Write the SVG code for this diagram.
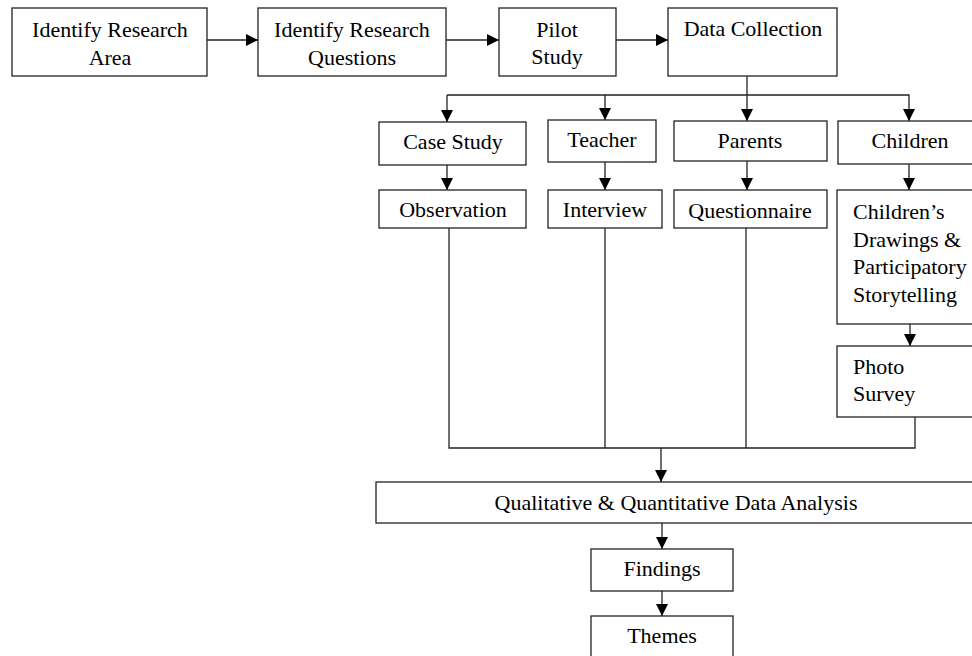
<svg xmlns="http://www.w3.org/2000/svg" width="972" height="656" viewBox="0 0 972 656">
<style>
.box{fill:#fff;stroke:#222;stroke-width:1.3}
.t{font-family:"Liberation Serif","Times New Roman",serif;font-size:22px;fill:#000;text-anchor:middle}
.l{text-anchor:start}
.c{fill:none;stroke:#222;stroke-width:1.3}
</style>
<defs>
<marker id="ah" markerWidth="13" markerHeight="13" refX="12" refY="6.5" orient="auto" markerUnits="userSpaceOnUse">
<path d="M0,0.5 L12,6.5 L0,12.5 Z" fill="#000"/>
</marker>
</defs>
<rect width="972" height="656" fill="#fff"/>
<g id="connectors">
<line class="c" x1="207" y1="40" x2="258" y2="40" marker-end="url(#ah)"/>
<line class="c" x1="446" y1="40" x2="499" y2="40" marker-end="url(#ah)"/>
<line class="c" x1="616" y1="40" x2="668" y2="40" marker-end="url(#ah)"/>
<line class="c" x1="747" y1="76" x2="747" y2="121" marker-end="url(#ah)"/>
<polyline class="c" points="447,95 909,95 909,121" marker-end="url(#ah)"/>
<line class="c" x1="447" y1="95" x2="447" y2="122" marker-end="url(#ah)"/>
<line class="c" x1="605" y1="95" x2="605" y2="120" marker-end="url(#ah)"/>
<line class="c" x1="447" y1="165" x2="447" y2="190" marker-end="url(#ah)"/>
<line class="c" x1="605" y1="162" x2="605" y2="190" marker-end="url(#ah)"/>
<line class="c" x1="747" y1="161" x2="747" y2="190" marker-end="url(#ah)"/>
<line class="c" x1="909" y1="164" x2="909" y2="190" marker-end="url(#ah)"/>
<line class="c" x1="910" y1="324" x2="910" y2="346" marker-end="url(#ah)"/>
<polyline class="c" points="449,228 449,448 915,448 915,417"/>
<line class="c" x1="605" y1="228" x2="605" y2="448"/>
<line class="c" x1="746" y1="228" x2="746" y2="448"/>
<line class="c" x1="661" y1="448" x2="661" y2="482" marker-end="url(#ah)"/>
<line class="c" x1="662" y1="523" x2="662" y2="549" marker-end="url(#ah)"/>
<line class="c" x1="662" y1="591" x2="662" y2="616" marker-end="url(#ah)"/>
</g>
<g id="n1"><rect class="box" x="12" y="8" width="195" height="68"/><text class="t" x="110" y="37">Identify Research</text><text class="t" x="110" y="65">Area</text></g>
<g id="n2"><rect class="box" x="258" y="8" width="188" height="68"/><text class="t" x="352" y="37">Identify Research</text><text class="t" x="352" y="65">Questions</text></g>
<g id="n3"><rect class="box" x="499" y="8" width="117" height="68"/><text class="t" x="557" y="37">Pilot</text><text class="t" x="557" y="64">Study</text></g>
<g id="n4"><rect class="box" x="668" y="8" width="169" height="68"/><text class="t" x="753" y="36">Data Collection</text></g>
<g id="n5"><rect class="box" x="379" y="122" width="147" height="43"/><text class="t" x="453" y="149">Case Study</text></g>
<g id="n6"><rect class="box" x="548" y="120" width="108" height="42"/><text class="t" x="602" y="147">Teacher</text></g>
<g id="n7"><rect class="box" x="674" y="121" width="153" height="40"/><text class="t" x="750" y="148">Parents</text></g>
<g id="n8"><rect class="box" x="838" y="121" width="144" height="43"/><text class="t" x="910" y="148">Children</text></g>
<g id="n9"><rect class="box" x="379" y="190" width="147" height="38"/><text class="t" x="453" y="217">Observation</text></g>
<g id="n10"><rect class="box" x="548" y="190" width="114" height="38"/><text class="t" x="605" y="217">Interview</text></g>
<g id="n11"><rect class="box" x="674" y="190" width="153" height="38"/><text class="t" x="750" y="218">Questionnaire</text></g>
<g id="n12"><rect class="box" x="837" y="190" width="145" height="134"/><text class="t l" x="853" y="219">Children’s</text><text class="t l" x="853" y="247">Drawings &amp;</text><text class="t l" x="853" y="274">Participatory</text><text class="t l" x="853" y="302">Storytelling</text></g>
<g id="n13"><rect class="box" x="837" y="346" width="145" height="71"/><text class="t l" x="853" y="374">Photo</text><text class="t l" x="853" y="401">Survey</text></g>
<g id="n14"><rect class="box" x="376" y="482" width="600" height="41"/><text class="t" x="676" y="510">Qualitative &amp; Quantitative Data Analysis</text></g>
<g id="n15"><rect class="box" x="591" y="549" width="142" height="42"/><text class="t" x="662" y="576">Findings</text></g>
<g id="n16"><rect class="box" x="591" y="616" width="142" height="50"/><text class="t" x="662" y="643">Themes</text></g>
</svg>
